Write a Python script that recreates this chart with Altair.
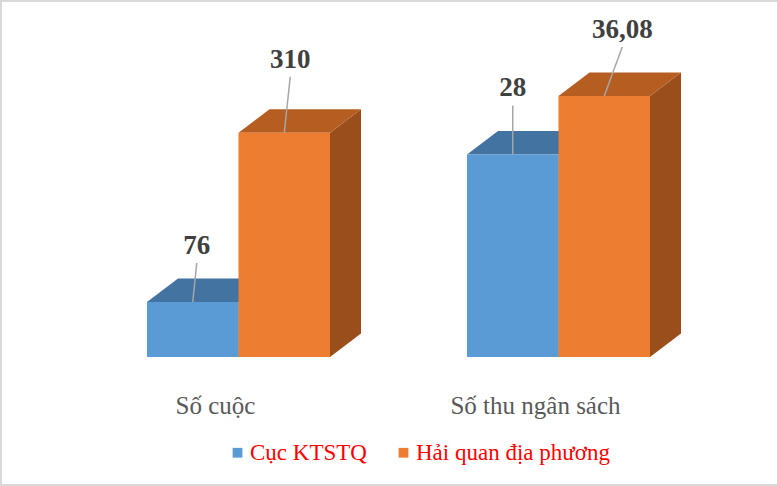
import altair as alt
import pandas as pd

# ---- data ----
categories = ["Số cuộc", "Số thu ngân sách"]
series = ["Cục KTSTQ", "Hải quan địa phương"]
val_ktstq = [76, 28]
val_haiquan = [310, 36.08]
# the original workbook draws the second category at ten times its label
plot_factor = [1, 10]

# ---- styling ----
front_colors = ["#5b9bd5", "#ed7d31"]
top_colors = ["#4373a0", "#b65e22"]
side_colors = ["#3a6a94", "#9a4e1c"]
PX_PER_X = 320.0          # pixels per category step
PX_PER_Y = 0.7235         # pixels per value unit
BAR_W = 91.5 / PX_PER_X   # bar width in x units
DEPTH_X = 31 / PX_PER_X   # 3-D depth, x
DEPTH_Y = 23.4 / PX_PER_Y # 3-D depth, y
X_DOMAIN = [-238.5 / PX_PER_X, (777 - 238.5) / PX_PER_X]
Y_DOMAIN = [-(486 - 357) / PX_PER_Y, 357 / PX_PER_Y]
label_dx_px = [4, 6, 0, 18]
label_up_px = [56, 73, 66, 66]
FONT = "Liberation Serif"

values = [val_ktstq, val_haiquan]
front_rows, face_rows, label_rows = [], [], []
k = 0
for ci, cat in enumerate(categories):
    for si, s in enumerate(series):
        v = values[si][ci]
        h = v * plot_factor[ci]
        x0 = ci - BAR_W + si * BAR_W
        x1 = x0 + BAR_W
        front_rows.append(dict(series=s, x0=x0, x1=x1, y0=0, y1=h))
        bid = f"{ci}-{si}"
        # side face
        face_rows += [
            dict(id="s" + bid, x=x1, y=0, y2=h, fill=side_colors[si], layer=0),
            dict(id="s" + bid, x=x1 + DEPTH_X, y=DEPTH_Y, y2=h + DEPTH_Y, fill=side_colors[si], layer=0),
        ]
        # top face
        face_rows += [
            dict(id="t" + bid, x=x0, y=h, y2=h, fill=top_colors[si], layer=1),
            dict(id="t" + bid, x=x0 + DEPTH_X, y=h, y2=h + DEPTH_Y, fill=top_colors[si], layer=1),
            dict(id="t" + bid, x=x1, y=h, y2=h + DEPTH_Y, fill=top_colors[si], layer=1),
            dict(id="t" + bid, x=x1 + DEPTH_X, y=h + DEPTH_Y, y2=h + DEPTH_Y, fill=top_colors[si], layer=1),
        ]
        xc = (x0 + x1) / 2
        lx = xc + label_dx_px[k] / PX_PER_X
        ly = h + label_up_px[k] / PX_PER_Y
        txt = f"{v:g}".replace(".", ",")
        label_rows.append(dict(text=txt, lx=lx, ly=ly, bx=xc, by=h, ty=ly - 17 / PX_PER_Y))
        k += 1

front_df = pd.DataFrame(front_rows)
face_df = pd.DataFrame(face_rows)
label_df = pd.DataFrame(label_rows)
cat_df = pd.DataFrame(dict(cat=categories, x=list(range(len(categories)))))

xs = alt.Scale(domain=X_DOMAIN, nice=False, zero=False)
ys = alt.Scale(domain=Y_DOMAIN, nice=False, zero=False)

sides = alt.Chart(face_df).transform_filter("datum.layer == 0").mark_area(opacity=1, strokeWidth=0).encode(
    x=alt.X("x:Q", scale=xs, axis=None),
    y=alt.Y("y:Q", scale=ys, axis=None),
    y2="y2:Q",
    detail="id:N",
    fill=alt.Fill("fill:N", scale=None),
)
tops = alt.Chart(face_df).transform_filter("datum.layer == 1").mark_area(opacity=1, strokeWidth=0).encode(
    x=alt.X("x:Q", scale=xs, axis=None),
    y=alt.Y("y:Q", scale=ys, axis=None),
    y2="y2:Q",
    detail="id:N",
    fill=alt.Fill("fill:N", scale=None),
)
fronts = alt.Chart(front_df).mark_rect(opacity=1).encode(
    x=alt.X("x0:Q", scale=xs, axis=None),
    x2="x1:Q",
    y=alt.Y("y0:Q", scale=ys, axis=None),
    y2="y1:Q",
    color=alt.Color(
        "series:N",
        scale=alt.Scale(domain=series, range=front_colors),
        legend=alt.Legend(
            orient="none", legendX=226, legendY=441, direction="horizontal",
            title=None, symbolType="square", symbolSize=95, symbolStrokeWidth=0,
            labelFont=FONT, labelFontSize=23, labelColor="#ff0000",
            labelOffset=1, columnPadding=25, labelLimit=400,
        ),
    ),
)
leaders = alt.Chart(label_df).mark_rule(color="#a6a6a6", strokeWidth=1.5).encode(
    x=alt.X("bx:Q", scale=xs, axis=None),
    y=alt.Y("by:Q", scale=ys, axis=None),
    x2="lx:Q",
    y2="ty:Q",
)
labels = alt.Chart(label_df).mark_text(
    font=FONT, fontSize=27, fontWeight="bold", color="#404040", baseline="middle"
).encode(
    x=alt.X("lx:Q", scale=xs, axis=None),
    y=alt.Y("ly:Q", scale=ys, axis=None),
    text="text:N",
)
cat_labels = alt.Chart(cat_df).mark_text(
    font=FONT, fontSize=25, color="#595959", baseline="alphabetic", dx=-23, dy=57
).encode(
    x=alt.X("x:Q", scale=xs, axis=None),
    y=alt.datum(0, scale=ys),
    text="cat:N",
)
border_color = "#d9d9d9"
b_left = alt.Chart().mark_rule(color=border_color, strokeWidth=2).encode(
    x=alt.value(1), y=alt.value(0), y2=alt.value(486))
b_top = alt.Chart().mark_rule(color=border_color, strokeWidth=2).encode(
    x=alt.value(0), x2=alt.value(777), y=alt.value(1))
b_bottom = alt.Chart().mark_rule(color=border_color, strokeWidth=2).encode(
    x=alt.value(0), x2=alt.value(777), y=alt.value(485))

chart = alt.layer(
    sides, tops, fronts, leaders, labels, cat_labels, b_left, b_top, b_bottom
).properties(
    width=777, height=486, autosize=alt.AutoSizeParams(type="none"), padding=0,
    background="white",
).configure_view(stroke=None)

chart.save("out.html", embed_options={"renderer": "svg", "actions": False})
